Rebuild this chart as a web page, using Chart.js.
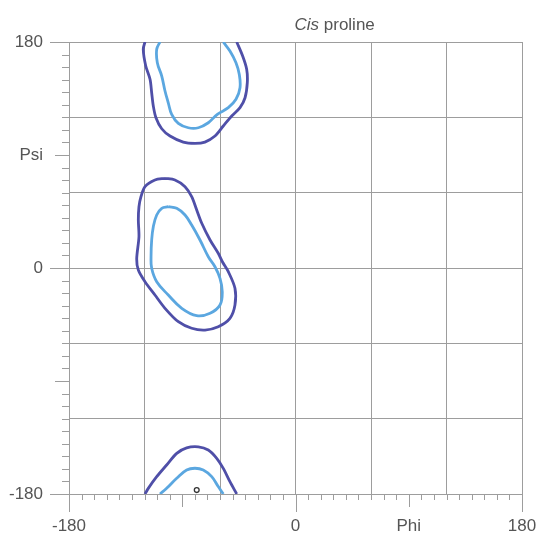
<!DOCTYPE html>
<html>
<head>
<meta charset="utf-8">
<script src="https://cdn.jsdelivr.net/npm/chart.js@4/dist/chart.umd.min.js"></script>
<style>
  body { margin: 0; background: #fff; }
</style>
</head>
<body>
<canvas id="rama" width="556" height="536"></canvas>
<script>
// contour lines, [phi, psi]
let outerTop = [[-119.6,180],[-121.0,174.2],[-119.0,160.9],[-115.6,150.3],[-114.3,139.6],[-113.0,129.0],[-110.9,119.7],[-106.3,110.9],[-99.7,105.1],[-89.2,100.3],[-79.9,99.3],[-72.0,100.3],[-64.0,105.1],[-57.4,113.1],[-50.7,121.1],[-44.1,127.7],[-40.1,135.6],[-38.3,147.6],[-38.8,158.3],[-42.0,168.8],[-46.7,180]];
let innerTop = [[-107.7,180],[-110.3,174.2],[-109.8,163.5],[-106.3,152.9],[-103.7,141.0],[-101.1,131.6],[-98.4,122.4],[-93.1,115.2],[-85.2,111.7],[-77.2,111.7],[-69.3,115.7],[-62.1,122.4],[-53.4,127.7],[-47.3,134.4],[-44.1,143.6],[-44.7,154.3],[-47.3,163.5],[-52.1,172.8],[-57.4,180]];
let outerMid = [[-103.7,71.4],[-95.8,70.1],[-87.8,64.8],[-82.5,56.8],[-78.5,46.2],[-74.5,35.6],[-67.9,22.3],[-61.4,11.7],[-58.0,4.8],[-53.4,-2.9],[-48.1,-16.2],[-48.1,-29.5],[-52.1,-40.1],[-61.4,-46.8],[-71.9,-49.4],[-82.5,-48.0],[-93.1,-42.8],[-103.7,-32.1],[-111.7,-21.5],[-119.6,-10.9],[-124.9,-1.6],[-126.2,7.2],[-124.4,24.9],[-124.9,38.2],[-124.4,48.8],[-122.8,56.8],[-119.6,64.8],[-111.7,70.1],[-103.7,71.4]];
let innerMid = [[-101.1,48.8],[-94.4,47.5],[-87.8,42.2],[-82.5,34.2],[-75.9,22.3],[-69.3,9.0],[-64.0,1.0],[-60.0,-8.2],[-58.2,-18.9],[-60.0,-29.5],[-67.9,-36.1],[-78.5,-38.0],[-90.4,-32.1],[-101.1,-21.5],[-110.3,-10.9],[-114.3,-0.2],[-114.8,9.0],[-114.3,22.3],[-113.0,32.9],[-110.3,42.2],[-106.3,47.5],[-101.1,48.8]];
let outerBottom = [[-119.6,-180],[-117.0,-175.5],[-110.3,-166.2],[-102.4,-156.9],[-94.4,-147.6],[-86.5,-143.2],[-77.2,-142.4],[-69.3,-145.0],[-62.6,-151.6],[-57.4,-159.6],[-52.1,-170.2],[-46.7,-180]];
let innerBottom = [[-107.7,-180],[-102.4,-175.5],[-94.4,-167.5],[-86.5,-160.9],[-79.9,-159.5],[-73.3,-160.9],[-66.6,-166.2],[-61.4,-174.1],[-57.4,-180]];
let singlePoint = [[-78.5,-176.9]];

let xLabelValues = [-180, -90, 0, 90, 180];
let xLabelTexts = ["-180", "", "0", "Phi", "180"];
let yLabelValues = [180, 90, 0, -90, -180];
let yLabelTexts = ["180", "Psi", "0", "", "-180"];

let outerColor = "#4f4fa8";
let innerColor = "#5ba7e0";
let gridColor = "#9d9d9d";
let textColor = "#555";
let fontFamily = "'Liberation Sans', Arial, sans-serif";

function toXY(list) {
    return list.map(p => ({ x: p[0], y: p[1] }));
}

function contour(list, color, tension) {
    return {
        data: toXY(list),
        showLine: true,
        borderColor: color,
        borderWidth: 2.8,
        pointRadius: 0,
        tension: tension,
        fill: false
    };
}

function everyTen(scale) {
    let t = [];
    for (let v = -180; v <= 180; v += 10) t.push({ value: v });
    scale.ticks = t;
}

function labelFor(values, texts) {
    return function (value) {
        let i = values.indexOf(value);
        return i >= 0 ? texts[i] : "";
    };
}

// minor / major tick marks outside the plot, and the title
let decorations = {
    id: "decorations",
    afterDraw(chart) {
        let ctx = chart.ctx;
        let xs = chart.scales.x, ys = chart.scales.y;
        let area = chart.chartArea;
        ctx.save();
        ctx.strokeStyle = gridColor;
        ctx.lineWidth = 1;
        ctx.beginPath();
        for (let v = -180; v <= 180; v += 10) {
            let lenX = v % 180 === 0 ? 18 : (v % 90 === 0 ? 13 : 6);
            let px = Math.round(xs.getPixelForValue(v)) + 0.5;
            ctx.moveTo(px, area.bottom);
            ctx.lineTo(px, area.bottom + lenX);
            let lenY = v % 180 === 0 ? 19 : (v % 90 === 0 ? 14 : 7);
            let py = Math.round(ys.getPixelForValue(v)) + 0.5;
            ctx.moveTo(area.left, py);
            ctx.lineTo(area.left - lenY, py);
        }
        ctx.stroke();

        let tx = xs.getPixelForValue(0) - 1;
        ctx.fillStyle = textColor;
        ctx.textBaseline = "alphabetic";
        ctx.textAlign = "left";
        ctx.font = "italic 17px " + fontFamily;
        ctx.fillText("Cis", tx, 30);
        let w = ctx.measureText("Cis").width;
        ctx.font = "17px " + fontFamily;
        ctx.fillText(" proline", tx + w, 30);
        ctx.restore();
    }
};

let gridOpts = {
    color: c => (c.tick && c.tick.value % 60 === 0) ? gridColor : "rgba(0,0,0,0)",
    drawTicks: true,
    tickColor: "rgba(0,0,0,0)"
};

let ctx = document.getElementById("rama").getContext("2d");

new Chart(ctx, {
    type: "scatter",
    data: {
        datasets: [
            contour(outerTop, outerColor, 0.3),
            contour(innerTop, innerColor, 0.4),
            contour(outerMid, outerColor, 0.3),
            contour(innerMid, innerColor, 0.4),
            contour(outerBottom, outerColor, 0.3),
            contour(innerBottom, innerColor, 0.4),
            {
                data: toXY(singlePoint),
                pointRadius: 2.4,
                pointBorderWidth: 1.3,
                pointBorderColor: "#333",
                pointBackgroundColor: "#fff"
            }
        ]
    },
    options: {
        responsive: false,
        animation: false,
        layout: { padding: { top: 42, right: 34, left: 0, bottom: 0 } },
        plugins: {
            legend: { display: false },
            tooltip: { enabled: false }
        },
        scales: {
            x: {
                type: "linear",
                min: -180,
                max: 180,
                afterBuildTicks: everyTen,
                afterFit(scale) { scale.height = 42; },
                grid: Object.assign({ tickLength: 19 }, gridOpts),
                border: { display: true, color: gridColor },
                ticks: {
                    autoSkip: false,
                    maxRotation: 0,
                    padding: 3,
                    color: textColor,
                    font: { family: fontFamily, size: 17 },
                    callback: labelFor(xLabelValues, xLabelTexts)
                }
            },
            y: {
                type: "linear",
                min: -180,
                max: 180,
                afterBuildTicks: everyTen,
                afterFit(scale) { scale.width = 69; },
                grid: Object.assign({ tickLength: 23 }, gridOpts),
                border: { display: true, color: gridColor },
                ticks: {
                    autoSkip: false,
                    padding: 3,
                    color: textColor,
                    font: { family: fontFamily, size: 17 },
                    callback: labelFor(yLabelValues, yLabelTexts)
                }
            }
        }
    },
    plugins: [decorations]
});
</script>
</body>
</html>
